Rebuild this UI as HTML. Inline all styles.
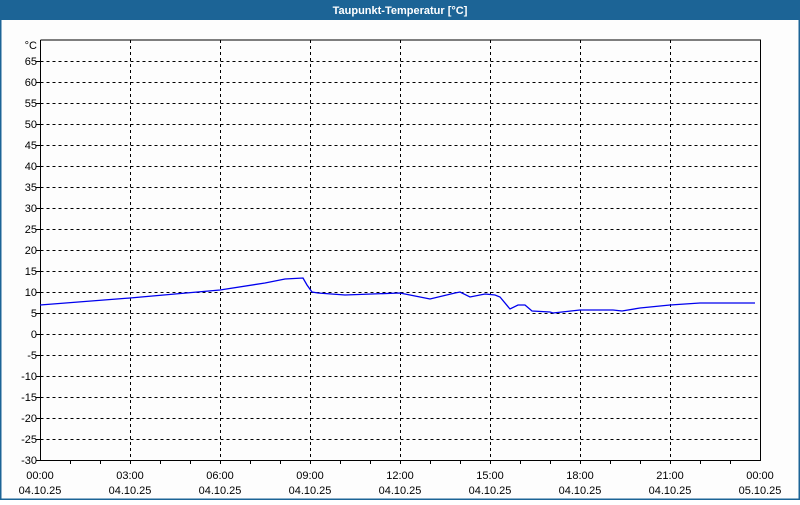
<!DOCTYPE html><html><head><style>body{margin:0;background:#fff}</style></head><body>
<svg width="800" height="500" xmlns="http://www.w3.org/2000/svg" font-family="Liberation Sans, DejaVu Sans, sans-serif" font-size="11">
<rect x="0" y="0" width="800" height="500" fill="#fdfdfd"/>
<rect x="0" y="0" width="800" height="20" fill="#1c6496"/>
<rect x="0" y="0" width="1.5" height="500" fill="#1c6496"/>
<rect x="798.5" y="0" width="1.5" height="500" fill="#1c6496"/>
<rect x="0" y="498.5" width="800" height="1.5" fill="#1c6496"/>
<text x="400" y="14" fill="#fff" font-weight="bold" text-anchor="middle" font-size="11">Taupunkt-Temperatur [°C]</text>
<g stroke="#000" stroke-dasharray="3,3" stroke-width="1">
<path d="M40.5 61.5H760M40.5 82.5H760M40.5 103.5H760M40.5 124.5H760M40.5 145.5H760M40.5 166.5H760M40.5 187.5H760M40.5 208.5H760M40.5 229.5H760M40.5 250.5H760M40.5 271.5H760M40.5 292.5H760M40.5 313.5H760M40.5 334.5H760M40.5 355.5H760M40.5 376.5H760M40.5 397.5H760M40.5 418.5H760M40.5 439.5H760"/>
<path d="M130.5 40V460M220.5 40V460M310.5 40V460M400.5 40V460M490.5 40V460M580.5 40V460M670.5 40V460"/>
</g>
<g stroke="#000">
<path d="M40.5 40V460.5H760.5V40H40.5" fill="none"/>
<path d="M70.5 460v4M100.5 460v4M130.5 460v4M160.5 460v4M190.5 460v4M220.5 460v4M250.5 460v4M280.5 460v4M310.5 460v4M340.5 460v4M370.5 460v4M400.5 460v4M430.5 460v4M460.5 460v4M490.5 460v4M520.5 460v4M550.5 460v4M580.5 460v4M610.5 460v4M640.5 460v4M670.5 460v4M700.5 460v4M730.5 460v4"/>
<path d="M36 61.5h4M36 82.5h4M36 103.5h4M36 124.5h4M36 145.5h4M36 166.5h4M36 187.5h4M36 208.5h4M36 229.5h4M36 250.5h4M36 271.5h4M36 292.5h4M36 313.5h4M36 334.5h4M36 355.5h4M36 376.5h4M36 397.5h4M36 418.5h4M36 439.5h4M36 460.5h4"/>
</g>
<g text-anchor="end" fill="#000">
<text x="37" y="49">°C</text>
<text x="37" y="65">65</text><text x="37" y="86">60</text><text x="37" y="107">55</text><text x="37" y="128">50</text><text x="37" y="149">45</text><text x="37" y="170">40</text><text x="37" y="191">35</text><text x="37" y="212">30</text><text x="37" y="233">25</text><text x="37" y="254">20</text><text x="37" y="275">15</text><text x="37" y="296">10</text><text x="37" y="317">5</text><text x="37" y="338">0</text><text x="37" y="359">-5</text><text x="37" y="380">-10</text><text x="37" y="401">-15</text><text x="37" y="422">-20</text><text x="37" y="443">-25</text><text x="37" y="464">-30</text>
</g>
<g text-anchor="middle" fill="#000">
<text x="40" y="479">00:00</text><text x="40" y="494">04.10.25</text>
<text x="130" y="479">03:00</text><text x="130" y="494">04.10.25</text>
<text x="220" y="479">06:00</text><text x="220" y="494">04.10.25</text>
<text x="310" y="479">09:00</text><text x="310" y="494">04.10.25</text>
<text x="400" y="479">12:00</text><text x="400" y="494">04.10.25</text>
<text x="490" y="479">15:00</text><text x="490" y="494">04.10.25</text>
<text x="580" y="479">18:00</text><text x="580" y="494">04.10.25</text>
<text x="670" y="479">21:00</text><text x="670" y="494">04.10.25</text>
<text x="760" y="479">00:00</text><text x="760" y="494">05.10.25</text>
</g>
<polyline fill="none" stroke="#0000ee" stroke-width="1.3" points="40,305 130,298 220,290 265,283 285,279 303,278 307,285 312,292 318,293 345,295 400,293 410,295 430,299 455,293 460,292 470,297 485,294 495,295 500,297 510,309 518,305 525,305 532,311 550,312 553,313 580,310 613,310 622,311 640,308 670,305 700,303 755,303"/>
</svg></body></html>
